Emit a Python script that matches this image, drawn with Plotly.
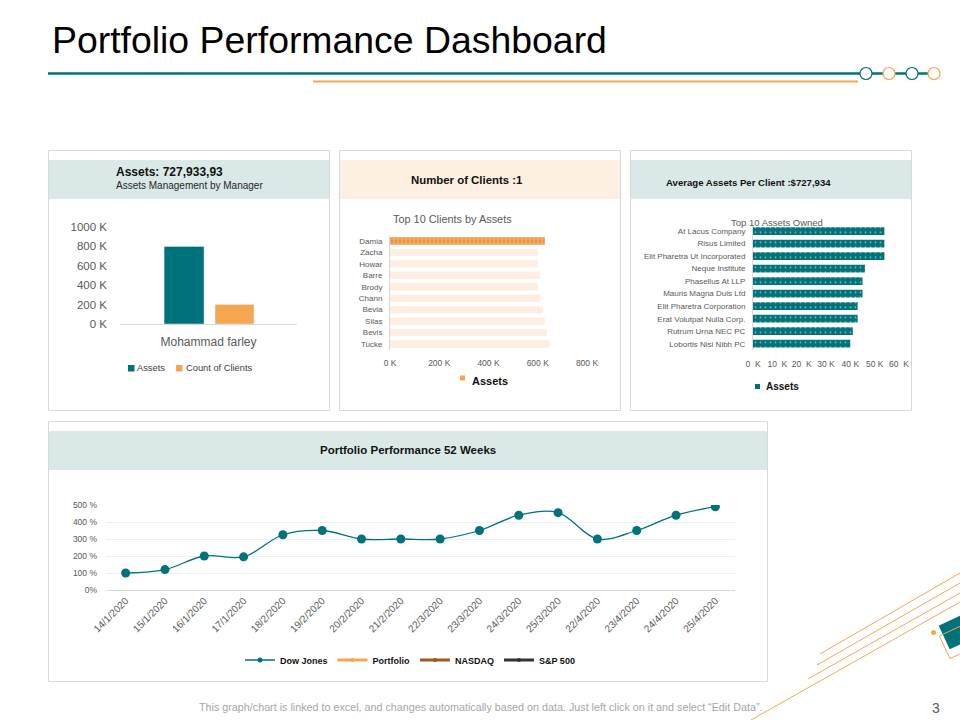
import math
import plotly.graph_objects as go

W, H = 960, 720
def X(px): return px / W
def Y(py): return 1 - py / H

FONT = "Liberation Sans, Arial, sans-serif"
TEAL = "#00727a"
ORANGE = "#f5a650"
PEACH = "#fdeee1"
BAND_TEAL = "#d9e9e8"
BAND_PEACH = "#fdf0e3"
GRAY_TXT = "#595959"
BORDER = "#d9d9d9"

# ---------------- data ----------------
managers = ["Mohammad farley"]
manager_assets = [800000]
manager_clients = [200000]

clients = ["Damia", "Zacha", "Howar", "Barre", "Brody", "Chann", "Bevia", "Silas", "Bevis", "Tucke"]
client_assets = [629000, 600000, 600000, 609000, 600000, 609000, 620000, 629000, 637000, 649000]

owners = ["At Lacus Company", "Risus Limited", "Elit Pharetra Ut Incorporated", "Neque Institute",
          "Phasellus At LLP", "Mauris Magna Duis Ltd", "Elit Pharetra Corporation",
          "Erat Volutpat Nulla Corp.", "Rutrum Urna NEC PC", "Lobortis Nisi Nibh PC"]
owner_assets = [54000, 54000, 54000, 46000, 45000, 45000, 43000, 43000, 41000, 40000]

weeks = ["14/1/2020", "15/1/2020", "16/1/2020", "17/1/2020", "18/2/2020", "19/2/2020",
         "20/2/2020", "21/2/2020", "22/3/2020", "23/3/2020", "24/3/2020", "25/3/2020",
         "22/4/2020", "23/4/2020", "24/4/2020", "25/4/2020"]
dow_jones = [100, 120, 200, 195, 325, 350, 300, 300, 300, 350, 440, 455, 300, 350, 440, 490]
portfolio = [None] * len(weeks)
nasdaq = [None] * len(weeks)
sp500 = [None] * len(weeks)

k1_ticks = [0, 200000, 400000, 600000, 800000, 1000000]
k1_text = ["0 K", "200 K", "400 K", "600 K", "800 K", "1000 K"]
k2_ticks = [0, 200000, 400000, 600000, 800000]
k2_text = ["0 K", "200 K", "400 K", "600 K", "800 K"]
k3_ticks = [0, 10000, 20000, 30000, 40000, 50000, 60000]
k3_text = ["0\u00a0\u00a0K", "10\u00a0\u00a0K", "20\u00a0\u00a0K", "30\u00a0K", "40\u00a0K", "50\u00a0K", "60\u00a0\u00a0K"]
pct_ticks = [0, 100, 200, 300, 400, 500]
pct_text = ["0%", "100 %", "200 %", "300 %", "400 %", "500 %"]

fig = go.Figure()

# ---------------- chart 1 ----------------
fig.add_trace(go.Bar(x=managers, y=manager_assets, name="Assets", marker_color=TEAL,
                     width=0.226, offset=-0.251, xaxis="x", yaxis="y", showlegend=False))
fig.add_trace(go.Bar(x=managers, y=manager_clients, name="Count of Clients", marker_color=ORANGE,
                     width=0.22, offset=0.037, xaxis="x", yaxis="y", showlegend=False))

# ---------------- chart 2 ----------------
c2_colors = [ORANGE] + [PEACH] * (len(clients) - 1)
c2_shapes = ["."] + [""] * (len(clients) - 1)
fig.add_trace(go.Bar(y=clients, x=client_assets, orientation="h", name="Assets",
                     width=0.65, showlegend=False,
                     marker=dict(color=c2_colors, line_width=0,
                                 pattern=dict(shape=c2_shapes, fgcolor="white", fillmode="overlay",
                                              size=4, solidity=0.12)),
                     xaxis="x2", yaxis="y2"))

# ---------------- chart 3 ----------------
fig.add_trace(go.Bar(y=owners, x=owner_assets, orientation="h", name="Assets",
                     width=0.62, showlegend=False,
                     marker=dict(color=TEAL, line_width=0,
                                 pattern=dict(shape=".", fgcolor="white", fillmode="overlay",
                                              size=5, solidity=0.1)),
                     xaxis="x3", yaxis="y3"))

# ---------------- chart 4 ----------------
fig.add_trace(go.Scatter(x=weeks, y=dow_jones, name="Dow Jones", mode="lines+markers",
                         line=dict(color=TEAL, width=1.3, shape="spline"),
                         marker=dict(color=TEAL, size=9), showlegend=False, legendgroup="dj",
                         xaxis="x4", yaxis="y4"))
# legend entries (series drawn with their legend keys only)
fig.add_trace(go.Scatter(x=weeks, y=[None] * len(weeks), name="<b>Dow Jones</b>", mode="lines+markers",
                         line=dict(color=TEAL, width=1.3), marker=dict(color=TEAL, size=5),
                         legendgroup="dj", xaxis="x4", yaxis="y4", legend="legend4"))
fig.add_trace(go.Scatter(x=weeks, y=portfolio, name="<b>Portfolio</b>", mode="lines+markers",
                         line=dict(color=ORANGE, width=3), marker=dict(color=ORANGE, size=4),
                         xaxis="x4", yaxis="y4", legend="legend4"))
fig.add_trace(go.Scatter(x=weeks, y=nasdaq, name="<b>NASDAQ</b>", mode="lines+markers",
                         line=dict(color="#9c5b16", width=3), marker=dict(color="#9c5b16", size=4),
                         xaxis="x4", yaxis="y4", legend="legend4"))
fig.add_trace(go.Scatter(x=weeks, y=sp500, name="<b>S&P 500</b>", mode="lines+markers",
                         line=dict(color="#333333", width=3), marker=dict(color="#333333", size=4),
                         xaxis="x4", yaxis="y4", legend="legend4"))

# ---------------- axes ----------------
ax_common = dict(showgrid=False, zeroline=False, fixedrange=True, automargin=False)
fig.update_layout(
    xaxis=dict(domain=[X(120), X(297)], anchor="y", type="category", range=[-0.5, 0.5],
               showline=True, linecolor=BORDER, linewidth=1, ticks="",
               tickfont=dict(size=12, color=GRAY_TXT, family=FONT), ticklabelstandoff=7, **ax_common),
    yaxis=dict(domain=[Y(324), Y(227)], anchor="x", range=[0, 1000000],
               tickvals=k1_ticks, ticktext=k1_text, showline=False,
               tickfont=dict(size=11.5, color=GRAY_TXT, family=FONT), ticklabelstandoff=12, **ax_common),
    xaxis2=dict(domain=[X(390), X(587)], anchor="y2", range=[0, 800000],
                tickvals=k2_ticks, ticktext=k2_text, showline=False,
                tickfont=dict(size=8.5, color=GRAY_TXT, family=FONT), ticklabelstandoff=7, **ax_common),
    yaxis2=dict(domain=[Y(349.7), Y(235.3)], anchor="x2", type="category", range=[9.5, -0.5],
                showline=True, linecolor=BORDER, linewidth=1, ticks="",
                tickfont=dict(size=8, color=GRAY_TXT, family=FONT), ticklabelstandoff=5, **ax_common),
    xaxis3=dict(domain=[X(753), X(899)], anchor="y3", range=[0, 60000],
                tickvals=k3_ticks, ticktext=k3_text, showline=False,
                tickfont=dict(size=8.5, color=GRAY_TXT, family=FONT), ticklabelstandoff=7, **ax_common),
    yaxis3=dict(domain=[Y(350), Y(224.8)], anchor="x3", type="category", range=[9.5, -0.5],
                showline=True, linecolor=BORDER, linewidth=1, ticks="",
                tickfont=dict(size=8, color=GRAY_TXT, family=FONT), ticklabelstandoff=5, **ax_common),
    xaxis4=dict(domain=[X(106), X(735)], anchor="y4", type="category", range=[-0.5, 15.5],
                showline=True, linecolor=BORDER, linewidth=1, ticks="", tickangle=-45,
                tickfont=dict(size=10, color=GRAY_TXT, family=FONT), **ax_common),
    yaxis4=dict(domain=[Y(590), Y(505)], anchor="x4", range=[0, 500],
                tickvals=pct_ticks, ticktext=pct_text, showline=False,
                tickfont=dict(size=8.5, color=GRAY_TXT, family=FONT), ticklabelstandoff=8,
                fixedrange=True, zeroline=False, automargin=False,
                showgrid=True, gridcolor="#eeeeee", gridwidth=1),
)

# ---------------- legend (line chart) ----------------
fig.update_layout(
    showlegend=True,
    legend4=dict(x=X(410), y=Y(660), orientation="h", xanchor="center", yanchor="middle",
                 bgcolor="rgba(0,0,0,0)", borderwidth=0, itemclick=False, itemdoubleclick=False,
                 font=dict(size=9, color="#111111", family=FONT)),
)

# ---------------- shapes ----------------
shapes = []
def rect(x0, y0, x1, y1, fill=None, line=None, lw=1, layer="below"):
    shapes.append(dict(type="rect", xref="paper", yref="paper", x0=X(x0), x1=X(x1), y0=Y(y1), y1=Y(y0),
                       fillcolor=fill if fill else "rgba(0,0,0,0)",
                       line=dict(color=line if line else "rgba(0,0,0,0)", width=lw if line else 0),
                       layer=layer))
def seg(x0, y0, x1, y1, color, width):
    shapes.append(dict(type="line", xref="paper", yref="paper", x0=X(x0), y0=Y(y0), x1=X(x1), y1=Y(y1),
                       line=dict(color=color, width=width), layer="above"))

# panels
rect(48.5, 150.5, 329.5, 410.5, fill="white", line=BORDER)
rect(339.5, 150.5, 620.5, 410.5, fill="white", line=BORDER)
rect(630.5, 150.5, 911.5, 410.5, fill="white", line=BORDER)
rect(48.5, 421.5, 767.5, 681.5, fill="white", line=BORDER)
# header bands
rect(49, 160, 329, 199, fill=BAND_TEAL)
rect(340, 160, 620, 199, fill=BAND_PEACH)
rect(631, 160, 911, 199, fill=BAND_TEAL)
rect(49, 431, 767, 470, fill=BAND_TEAL)

# legend keys (small squares) for the bar charts
rect(128, 365, 134.5, 371.5, fill=TEAL, layer="above")
rect(176, 365, 182.5, 371.5, fill=ORANGE, layer="above")
rect(460, 375.5, 465, 380.5, fill=ORANGE, layer="above")
rect(755, 384, 760, 389, fill=TEAL, layer="above")

# title rules
seg(48, 73.5, 930, 73.5, TEAL, 2.5)
seg(313, 81.5, 858, 81.5, ORANGE, 2)
for i, cx in enumerate([866, 889, 912, 934]):
    col = TEAL if i % 2 == 0 else ORANGE
    shapes.append(dict(type="circle", xref="paper", yref="paper",
                       x0=X(cx - 6), x1=X(cx + 6), y0=Y(79.5), y1=Y(67.5),
                       fillcolor="white", line=dict(color=col, width=1.2), layer="above"))

# bottom-right decoration
seg(820, 654, 960, 573, ORANGE, 1)
seg(817, 665, 960, 583, ORANGE, 1)
seg(808, 679, 960, 593, ORANGE, 1)
seg(751, 720, 960, 602, ORANGE, 1)

def rot_square(cx, cy, half, ang_deg):
    a = math.radians(ang_deg)
    pts = []
    for dx, dy in [(-half, -half), (half, -half), (half, half), (-half, half)]:
        px = cx + dx * math.cos(a) - dy * math.sin(a)
        py = cy + dx * math.sin(a) + dy * math.cos(a)
        pts.append((X(px), Y(py)))
    return "M" + " L".join(f"{p[0]:.5f},{p[1]:.5f}" for p in pts) + " Z"

shapes.append(dict(type="path", xref="paper", yref="paper", path=rot_square(956, 632, 12, -25),
                   fillcolor=TEAL, line=dict(color=TEAL, width=2), layer="above"))
shapes.append(dict(type="path", xref="paper", yref="paper", path=rot_square(956, 642, 12.5, -25),
                   fillcolor="rgba(0,0,0,0)", line=dict(color=ORANGE, width=1), layer="above"))
shapes.append(dict(type="circle", xref="paper", yref="paper",
                   x0=X(931), x1=X(936), y0=Y(635), y1=Y(630),
                   fillcolor=ORANGE, line=dict(width=0), layer="above"))

# ---------------- annotations ----------------
ann = []
def text(t, x, y, size, color="#000000", xanchor="left"):
    ann.append(dict(text=t, x=X(x), y=Y(y), xref="paper", yref="paper", showarrow=False,
                    xanchor=xanchor, yanchor="middle", font=dict(size=size, color=color, family=FONT)))

text("Portfolio Performance Dashboard", 50, 40, 37.4, "#000000")
text("<b>Assets: 727,933,93</b>", 114, 172, 12, "#111111")
text("Assets Management by Manager", 114, 186, 10, "#262626")
text("<b>Number of Clients :1</b>", 467, 180, 11.4, "#111111", "center")
text("<b>Average Assets Per Client :$727,934</b>", 664, 182, 9.6, "#111111")
text("<b>Portfolio Performance 52 Weeks</b>", 408, 450, 11.5, "#111111", "center")
text("Top 10 Clients by Assets", 452, 219, 10.9, GRAY_TXT, "center")
text("Top 10 Assets Owned", 777, 222, 9.5, GRAY_TXT, "center")
# bar chart legend labels
text("Assets", 135, 368, 9.3, "#404040")
text("Count of Clients", 183.5, 368, 9.3, "#404040")
text("<b>Assets</b>", 469.5, 381, 11, "#111111")
text("<b>Assets</b>", 764, 386.5, 10, "#111111")
text("This graph/chart is linked to excel, and changes automatically based on data. Just left click on it and select \u201cEdit Data\u201d.",
     480, 707, 10.75, "#a6a6a6", "center")
text("3", 936, 708, 14, GRAY_TXT, "center")

fig.update_layout(
    width=W, height=H, margin=dict(l=0, r=0, t=0, b=0, pad=0, autoexpand=False),
    paper_bgcolor="white", plot_bgcolor="rgba(0,0,0,0)",
    barmode="group", font=dict(family=FONT),
    shapes=shapes, annotations=ann,
)

fig.write_html("out.html", config={"displayModeBar": False})
